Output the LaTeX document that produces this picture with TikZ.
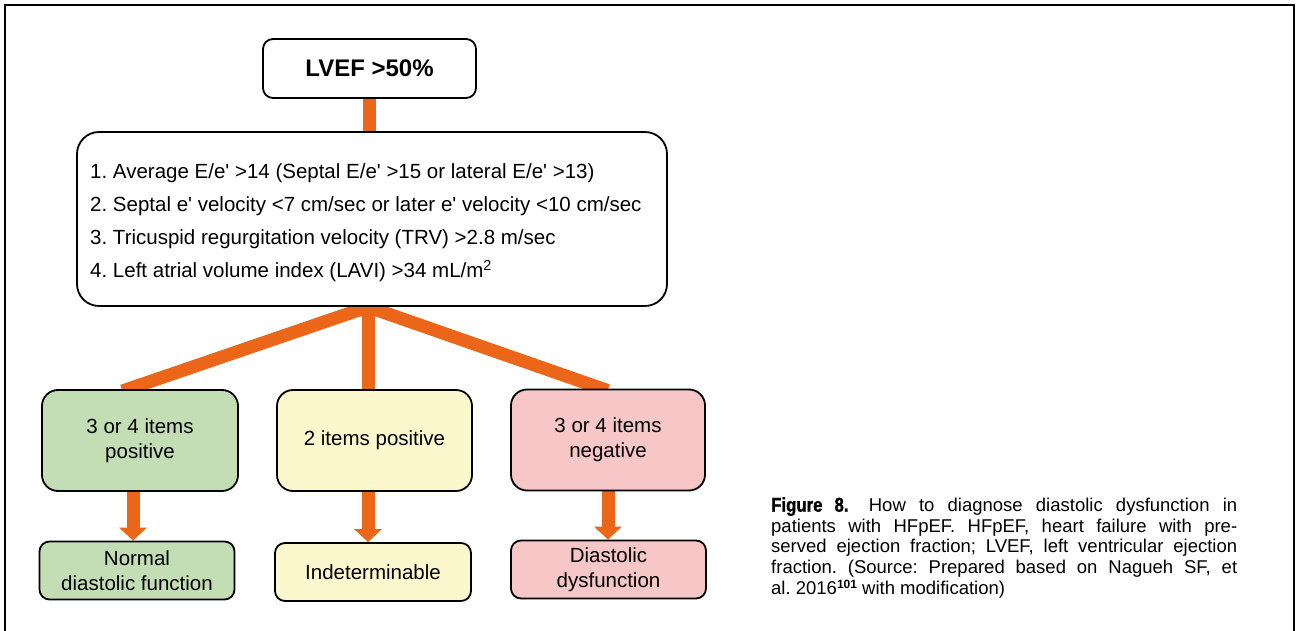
\documentclass[tikz,border=0pt]{standalone}
\usepackage{fontspec}
\setmainfont{Liberation Sans}
\newfontfamily\condbold[FakeStretch=0.84,FakeBold=1.2]{Liberation Sans Bold}
\usetikzlibrary{arrows.meta,backgrounds}
\definecolor{orng}{RGB}{236,102,26}
\definecolor{gfill}{RGB}{195,222,180}
\definecolor{yfill}{RGB}{250,248,204}
\definecolor{pfill}{RGB}{247,198,198}
\newcommand{\apos}{\textquotesingle}
\frenchspacing
\begin{document}
\begin{tikzpicture}[x=1pt,y=-1pt,
  box/.style={draw=black, fill=white, line width=1.8pt, rounded corners=#1,
    inner sep=0pt, align=center, font=\fontsize{20.5}{25}\selectfont},
  box/.default=10pt,
  conn/.style={draw=orng, line width=13pt},
  arr/.style={draw=orng, line width=13pt, -{Triangle[width=27pt,length=13pt]}},
  txt/.style={inner sep=0pt}]
\useasboundingbox (0,0) rectangle (1298,631);
% frame
\draw[line width=2.5pt] (5,631) -- (5,5) -- (1294,5) -- (1294,631);

\node[box=10pt, minimum width=213pt, minimum height=59pt,
  font=\fontsize{24}{28}\selectfont\bfseries] (lvef) at (369.5,68.5) {LVEF >50\%};
\node[box=22pt, minimum width=590pt, minimum height=174pt] (crit) at (372,219) {};
\node[txt, anchor=north west, align=left, font=\fontsize{20.5}{33.3}\selectfont]
  (crittxt) at (90,163) {1. Average E/e\apos{} >14 (Septal E/e\apos{} >15 or lateral E/e\apos{} >13)\\
  2. Septal e\apos{} velocity <7 cm/sec or later e\apos{} velocity <10 cm/sec\\
  3. Tricuspid regurgitation velocity (TRV) >2.8 m/sec\\
  4. Left atrial volume index (LAVI) >34 mL/m\textsuperscript{2}};

\node[box=16pt, fill=gfill, minimum width=196pt, minimum height=101pt] (pos) at (140,440.5) {3 or 4 items\\positive};
\node[box=16pt, fill=yfill, minimum width=195pt, minimum height=101pt] (two) at (374.5,440.5) {2 items positive};
\node[box=16pt, fill=pfill, minimum width=194pt, minimum height=101pt] (neg) at (608,440) {3 or 4 items\\negative};

\node[box=10pt, fill=gfill, minimum width=195pt, minimum height=58pt] (normal) at (137,570.5) {Normal\\diastolic function};
\node[box=10pt, fill=yfill, minimum width=196pt, minimum height=58pt] (indet) at (373,572) {Indeterminable};
\node[box=10pt, fill=pfill, minimum width=195pt, minimum height=58pt] (dd) at (608.5,569.5) {Diastolic\\dysfunction};

\begin{scope}[on background layer]
  \draw[conn, shorten >=-3pt, shorten <=-3pt] (lvef.south) -- (lvef.south |- crit.north);
  \coordinate (hub) at ([xshift=-4pt]crit.south);
  \draw[conn, shorten >=-6pt] (hub) -- ([xshift=-12pt]pos.north);
  \draw[conn, shorten >=-6pt] (hub) -- (hub |- two.north);
  \draw[conn, shorten >=-6pt] (hub) -- ([xshift=-6pt]neg.north);
  \draw[arr, shorten <=-3pt] ([xshift=-7pt]pos.south) -- ([xshift=-7pt]pos.south |- normal.north);
  \draw[arr, shorten <=-3pt] ([xshift=-6.5pt]two.south) -- ([xshift=-6.5pt]two.south |- indet.north);
  \draw[arr, shorten <=-3pt] (neg.south) -- (neg.south |- dd.north);
\end{scope}

\node[txt, anchor=north west, text width=466pt, align=justify,
  font=\fontsize{18.5}{20.6}\selectfont] (cap) at (771,497)
  {{\condbold\fontsize{20}{20.6}\selectfont Figure 8.}\hspace{1.1em}How to diagnose diastolic dysfunction in\linebreak
  patients with HFpEF. HFpEF, heart failure with pre-\linebreak
  served ejection fraction; LVEF, left ventricular ejection\linebreak
  fraction. (Source: Prepared based on Nagueh SF, et\linebreak
  al. 2016{\fontsize{12}{12}\selectfont\raisebox{6pt}{\bfseries 101}} with modification)};
\end{tikzpicture}
\end{document}
